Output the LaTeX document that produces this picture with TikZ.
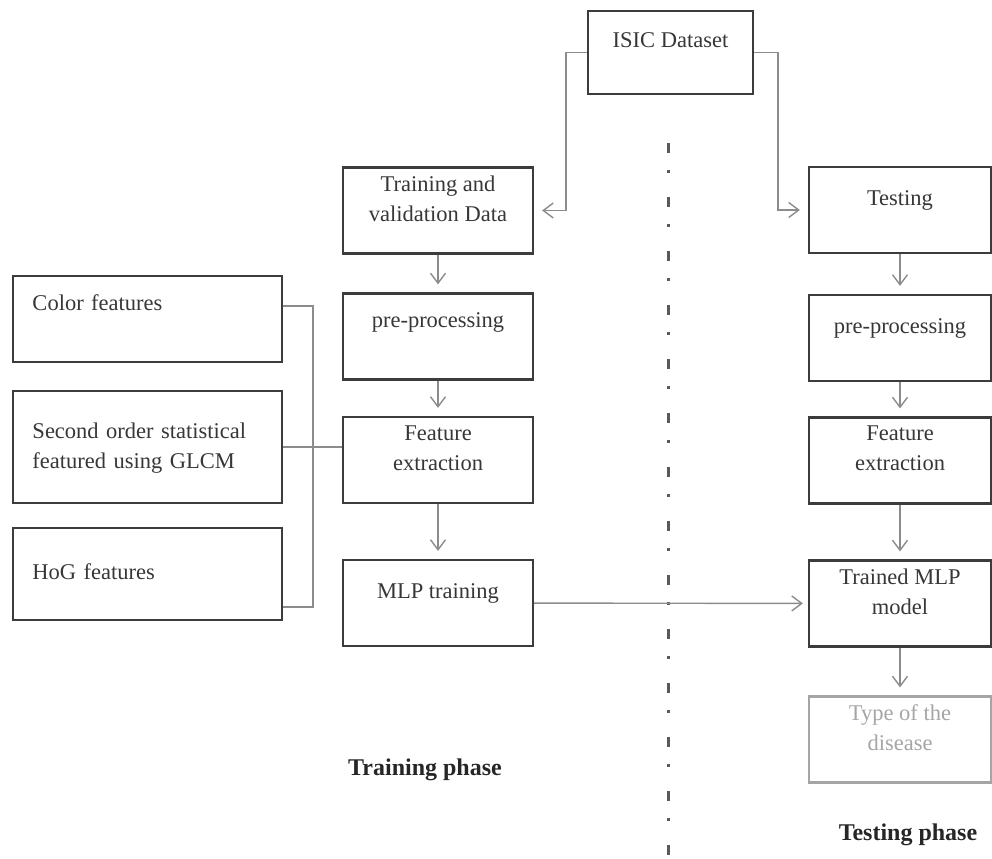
\documentclass[tikz,border=0pt]{standalone}
\usepackage{fontspec}
\setmainfont{Liberation Serif}
\definecolor{boxline}{RGB}{60,60,60}
\definecolor{linkgray}{RGB}{140,140,140}
\definecolor{fadegray}{RGB}{165,165,165}
\definecolor{textgray}{RGB}{55,55,55}
\usepackage{tikz}
\usetikzlibrary{arrows.meta, calc}

\begin{document}
\begin{tikzpicture}[
    x=0.5pt, y=-0.5pt,
    stagebox/.style={draw=boxline, line width=1.1pt, minimum width=95pt, minimum height=43pt,
                     align=center, inner sep=0pt, text depth=12pt, text=textgray,
                     font=\fontsize{11.25}{15}\selectfont},
    featbox/.style={stagebox, minimum width=134.5pt, text width=115pt, align=left,
                    inner xsep=9.75pt, text depth=16pt},
    link/.style={draw=linkgray, line width=0.7pt, -{Straight Barb[length=5pt,width=7.5pt]},
                 shorten >=4pt},
    feed/.style={draw=linkgray, line width=0.7pt},
    divider/.style={draw=gray!70!black, line width=1.5pt,
                    dash pattern=on 5pt off 8.5pt on 1.5pt off 12pt},
    phase/.style={font=\fontsize{12}{14}\selectfont\bfseries, text=black!85},
]
    \useasboundingbox (0,0) rectangle (992,858);

    % dataset
    \node[stagebox, minimum width=82.5pt, minimum height=41.5pt] (isic) at (670.5,52.5) {ISIC Dataset};

    % training side
    \node[stagebox] (train) at (438,210.5) {Training and\\validation Data};
    \node[stagebox, text depth=16pt] (prel) at (438,336.5) {pre-processing};
    \node[stagebox] (fel) at (438,460) {Feature\\extraction};
    \node[stagebox] (mlp) at (438,603) {MLP training};

    \node[featbox] (color) at (147.5,319) {Color features};
    \node[featbox, minimum height=56pt] (glcm) at (147.5,447) {Second order statistical\\featured using GLCM};
    \node[featbox, minimum height=46pt, text depth=2.5pt] (hog) at (147.5,574) {HoG features};

    % testing side
    \node[stagebox, minimum width=91pt] (test) at (900,210) {Testing};
    \node[stagebox, minimum width=91pt] (prer) at (900,338) {pre-processing};
    \node[stagebox, minimum width=91pt] (fer) at (900,460.5) {Feature\\extraction};
    \node[stagebox, minimum width=91pt] (trained) at (900,603.5) {Trained MLP\\model};
    \node[stagebox, minimum width=91pt, draw=fadegray, text=fadegray] (type) at (900,739.5) {Type of the\\disease};

    \node[phase] (trainphase) at (425,770) {Training phase};
    \node[phase] (testphase) at (908,835) {Testing phase};

    % separator
    \coordinate (septop) at (668,143);
    \coordinate (sepbot) at (668,858);
    \draw[divider] (septop) -- (sepbot);

    % connectors
    \draw[link] (isic.west) -- ++(-21,0) |- (train.east);
    \draw[link] (isic.east) -- ++(24,0) |- (test.west);
    \draw[link] (train) -- (prel);
    \draw[link] (prel) -- (fel);
    \draw[link] (fel) -- (mlp);
    \draw[link] (test) -- (prer);
    \draw[link] (prer) -- (fer);
    \draw[link] (fer) -- (trained);
    \draw[link] (trained) -- (type);
    \draw[link, shorten >=2.5pt] (mlp) -- (trained);

    \draw[feed] ([yshift=6.5pt]color.east) -- ++(30,0) |- ([yshift=-16.5pt]hog.east);
    \draw[feed] (glcm.east) -- (glcm.east -| fel.west);
\end{tikzpicture}
\end{document}
